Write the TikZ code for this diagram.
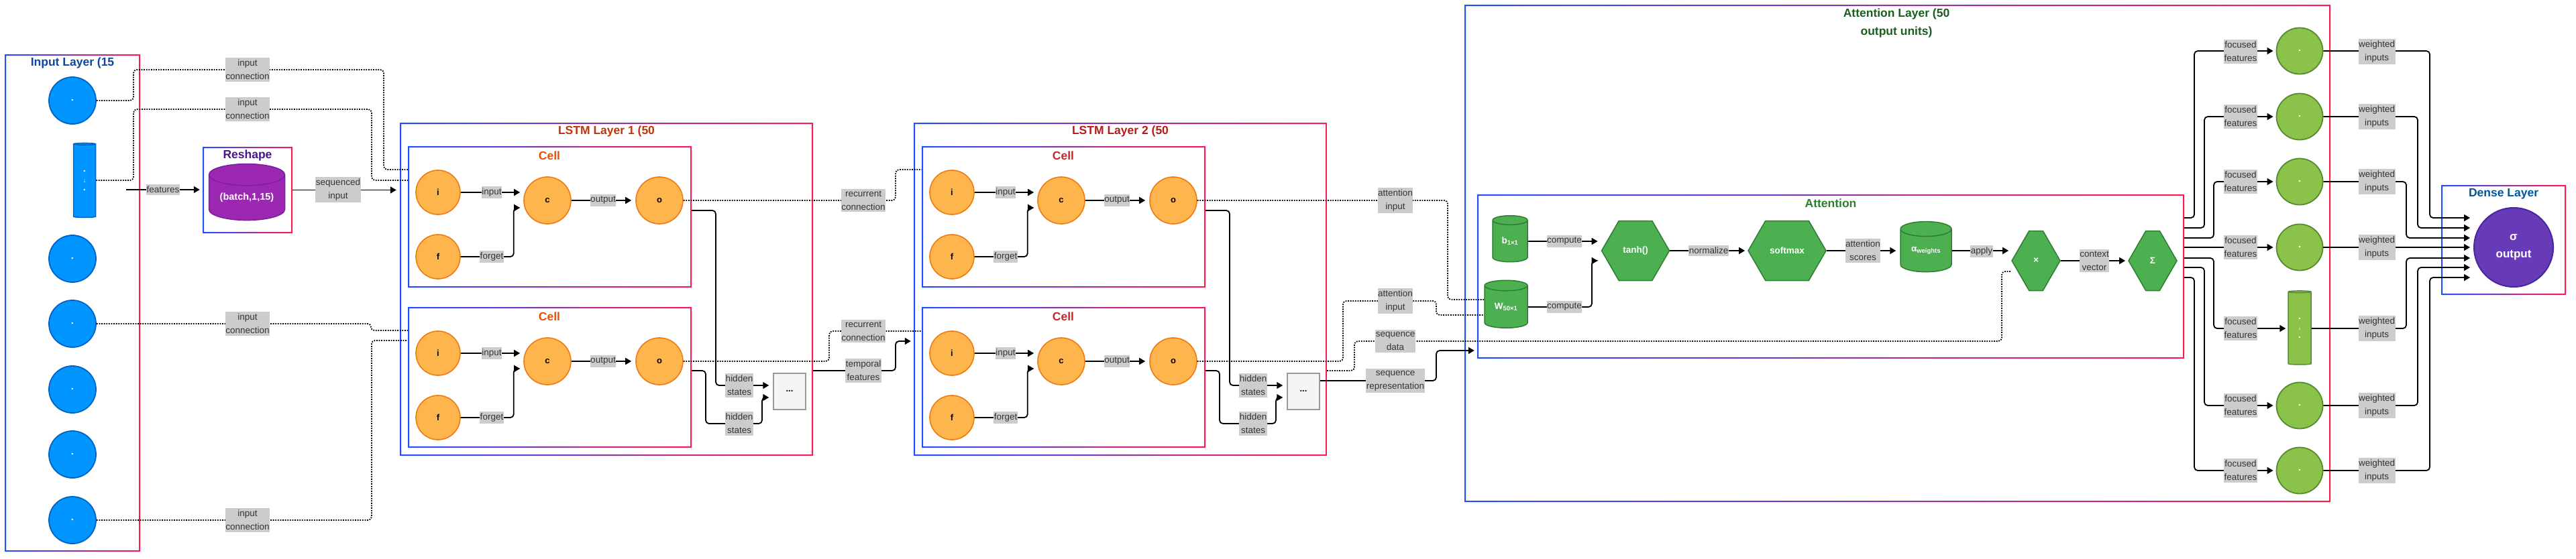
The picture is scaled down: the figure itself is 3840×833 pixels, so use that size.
\documentclass[tikz,border=0pt]{standalone}
\usepackage{fontspec}
\setmainfont{Liberation Sans}
\usetikzlibrary{arrows.meta,shapes.geometric,shapes.symbols,fit,calc}

\definecolor{gblue}{HTML}{1F4FFF}
\definecolor{gred}{HTML}{FF1A50}
\definecolor{inblue}{HTML}{0095FF}
\definecolor{inbluedk}{HTML}{0063C8}
\definecolor{gatefill}{HTML}{FFB54D}
\definecolor{gatedk}{HTML}{F07A10}
\definecolor{attfill}{HTML}{4CAF50}
\definecolor{attdk}{HTML}{2E7D32}
\definecolor{focfill}{HTML}{8BC34A}
\definecolor{focdk}{HTML}{558B2F}
\definecolor{rsfill}{HTML}{9C27B0}
\definecolor{rsdk}{HTML}{7B1FA2}
\definecolor{outfill}{HTML}{673AB7}
\definecolor{outdk}{HTML}{4527A0}
\definecolor{lblgray}{HTML}{CCCCCC}
\definecolor{lbltext}{HTML}{333333}
\definecolor{ttlinput}{HTML}{0D47A1}
\definecolor{ttlreshape}{HTML}{4A148C}
\definecolor{ttllstmA}{HTML}{BF360C}
\definecolor{ttlcellA}{HTML}{E65100}
\definecolor{ttllstmB}{HTML}{B71C1C}
\definecolor{ttlcellB}{HTML}{C62828}
\definecolor{ttlattlayer}{HTML}{1B5E20}
\definecolor{ttlatt}{HTML}{2E7D32}
\definecolor{ttldense}{HTML}{01579B}

\tikzset{
  conlbl/.style={fill=lblgray, text=lbltext, font=\fontsize{13.5}{20}\selectfont,
    align=center, inner xsep=0.5pt, inner ysep=3pt},
  ttl/.style={font=\fontsize{17.5}{27}\selectfont\bfseries, align=center, inner sep=0pt},
  inunit/.style={circle, draw=inbluedk, fill=inblue, line width=1.8pt, minimum size=70pt,
    inner sep=0pt, text=white, font=\fontsize{9}{9}\selectfont},
  gatenode/.style={circle, draw=gatedk, fill=gatefill, line width=1.6pt, minimum size=#1,
    inner sep=0pt, font=\fontsize{13}{13}\selectfont\bfseries},
  gatenode/.default=70pt,
  dbcyl/.style={cylinder, shape border rotate=90, aspect=0.5, inner sep=0pt,
    line width=1.5pt, text=white, align=center},
  attnhex/.style={signal, signal to=east and west, signal pointer angle=120,
    draw=attdk, fill=attfill, line width=1.5pt, minimum height=89pt, inner sep=0pt,
    text=white, font=\fontsize{13.5}{13.5}\selectfont\bfseries},
  focunit/.style={circle, draw=focdk, fill=focfill, line width=1.8pt, minimum size=69pt,
    inner sep=0pt, text=white, font=\fontsize{9}{9}\selectfont},
  ellipbox/.style={rectangle, draw=black!40, fill=black!4, line width=1.5pt,
    minimum width=48pt, minimum height=54pt, font=\fontsize{13}{13}\selectfont\bfseries},
  flow/.style={line width=1.8pt, rounded corners=5pt, -{Triangle[length=9pt,width=10pt]}},
  dotlink/.style={line width=1.8pt, dash pattern=on 1.8pt off 1.8pt, rounded corners=5pt}
}

\newcommand\layerframe[3]{%
  \shade[left color=gblue, right color=gred, even odd rule]
    (#2) rectangle (#3) ($(#2)+(2,2)$) rectangle ($(#3)+(-2,-2)$);
  \node[fit={(#2) (#3)}, inner sep=0pt] (#1) {};}

\begin{document}
\begin{tikzpicture}[x=1pt, y=-1pt]
  \useasboundingbox[fill=white] (0,0) rectangle (3840,833);

  % frames
  \layerframe{inlayer}{7,81}{209,823}
  \layerframe{reshape}{302,219}{436,348}
  \layerframe{lstmA}{596,183}{1212,680}
  \layerframe{cellA1}{608,218}{1031,429}
  \layerframe{cellA2}{608,458}{1031,668}
  \layerframe{lstmB}{1362,183}{1978,680}
  \layerframe{cellB1}{1374,218}{1797,429}
  \layerframe{cellB2}{1374,458}{1797,668}
  \layerframe{attlayer}{2183,7}{3474,749}
  \layerframe{attn}{2202,290}{3256,535}
  \layerframe{dense}{3639,276}{3825,440}

  % titles
  \node[ttl, text=ttlinput] (inttl) at (108,94) {Input Layer (15};
  \node[ttl, text=ttlreshape] (rsttl) at (369,232) {Reshape};
  \node[ttl, text=ttllstmA] (lstmAttl) at (904,196) {LSTM Layer 1 (50};
  \node[ttl, text=ttlcellA] (cellA1ttl) at (819,232) {Cell};
  \node[ttl, text=ttlcellA] (cellA2ttl) at (819,472) {Cell};
  \node[ttl, text=ttllstmB] (lstmBttl) at (1670,196) {LSTM Layer 2 (50};
  \node[ttl, text=ttlcellB] (cellB1ttl) at (1585,232) {Cell};
  \node[ttl, text=ttlcellB] (cellB2ttl) at (1585,472) {Cell};
  \node[ttl, text=ttlattlayer] (attlayerttl) at (2827,34) {Attention Layer (50\\output units)};
  \node[ttl, text=ttlatt] (attnttl) at (2729,303) {Attention};
  \node[ttl, text=ttldense] (densettl) at (3732,289) {Dense Layer};

  % input layer
  \node[inunit] (in1) at (108,150) {•};
  \node[dbcyl, draw=inbluedk, fill=inblue, minimum width=33pt, minimum height=111pt,
    aspect=0.6, font=\fontsize{9}{14}\selectfont] (incyl) at (126,270) {•\\↓\\•};
  \node[inunit] (in3) at (108,386) {•};
  \node[inunit] (in4) at (108,483) {•};
  \node[inunit] (in5) at (108,581) {•};
  \node[inunit] (in6) at (108,678) {•};
  \node[inunit] (in7) at (108,776) {•};

  % reshape
  \node[dbcyl, draw=rsdk, fill=rsfill, minimum width=113pt, minimum height=84pt,
    aspect=0.4, font=\fontsize{14.5}{14.5}\selectfont\bfseries] (rscyl) at (368,295) {(batch,1,15)};

  % lstm layer 1
  \node[gatenode=66pt] (iA1) at (653,287) {i};
  \node[gatenode=66pt] (fA1) at (653,383) {f};
  \node[gatenode] (cA1) at (816,299) {c};
  \node[gatenode] (oA1) at (983,299) {o};
  \node[gatenode=66pt] (iA2) at (653,527) {i};
  \node[gatenode=66pt] (fA2) at (653,623) {f};
  \node[gatenode] (cA2) at (816,539) {c};
  \node[gatenode] (oA2) at (983,539) {o};
  \node[ellipbox] (dotsA) at (1177,584) {...};

  % lstm layer 2
  \node[gatenode=66pt] (iB1) at (1419,287) {i};
  \node[gatenode=66pt] (fB1) at (1419,383) {f};
  \node[gatenode] (cB1) at (1582,299) {c};
  \node[gatenode] (oB1) at (1749,299) {o};
  \node[gatenode=66pt] (iB2) at (1419,527) {i};
  \node[gatenode=66pt] (fB2) at (1419,623) {f};
  \node[gatenode] (cB2) at (1582,539) {c};
  \node[gatenode] (oB2) at (1749,539) {o};
  \node[ellipbox] (dotsB) at (1943,584) {...};

  % attention
  \node[dbcyl, draw=attdk, fill=attfill, minimum width=52pt, minimum height=69pt,
    aspect=0.55, font=\fontsize{13.5}{13.5}\selectfont\bfseries] (bcyl) at (2251,360) {b\textsubscript{1×1}};
  \node[dbcyl, draw=attdk, fill=attfill, minimum width=64pt, minimum height=71pt,
    aspect=0.45, font=\fontsize{13.5}{13.5}\selectfont\bfseries] (Wcyl) at (2245,458) {W\textsubscript{50×1}};
  \node[attnhex, minimum width=101pt] (tanhhex) at (2438,374) {tanh()};
  \node[attnhex, minimum width=116pt] (softhex) at (2664,374) {softmax};
  \node[dbcyl, draw=attdk, fill=attfill, minimum width=76pt, minimum height=75pt,
    aspect=0.5, font=\fontsize{13.5}{13.5}\selectfont\bfseries] (alphacyl) at (2871,374) {α\textsubscript{weights}};
  \node[attnhex, minimum width=72pt] (timeshex) at (3035,389) {×};
  \node[attnhex, minimum width=72pt] (sumhex) at (3209,389) {Σ};

  \node[focunit] (foc1) at (3428,76) {•};
  \node[focunit] (foc2) at (3428,174) {•};
  \node[focunit] (foc3) at (3428,271) {•};
  \node[focunit] (foc4) at (3428,369) {•};
  \node[dbcyl, draw=focdk, fill=focfill, minimum width=34pt, minimum height=110pt,
    aspect=0.6, font=\fontsize{9}{14}\selectfont] (foccyl) at (3428,490) {•\\↓\\•};
  \node[focunit] (foc6) at (3428,605) {•};
  \node[focunit] (foc7) at (3428,702) {•};

  % dense
  \node[circle, draw=outdk, fill=outfill, line width=2pt, minimum size=118pt, inner sep=0pt,
    text=white, align=center, font=\fontsize{17}{26}\selectfont\bfseries] (outnode) at (3747,369) {σ\\output};

  % input connections
  \coordinate (featsrc) at (188,283);
  \draw[dotlink] (in1) -- (199,150) |- (572,104) |- (cellA1.west |- 0,253);
  \draw[dotlink] (incyl.east |- 0,269) -- (199,269) |- (554,163) |- (cellA1.west |- 0,269);
  \draw[dotlink] (in4) -- (553,483) |- (cellA2.west |- 0,493);
  \draw[dotlink] (in7) -- (554,776) |- (cellA2.west |- 0,508);
  \draw[flow, shorten >=4pt] (featsrc) -- (reshape.west |- featsrc);
  \draw[flow, shorten >=5pt] (reshape.east) -- (lstmA.west |- reshape.east);

  % cells of layer 1
  \draw[flow, shorten >=5pt] (iA1) -- (iA1 -| cA1.west);
  \draw[flow] (fA1.east) -- ++(79,0) |- ($(cA1.west)+(-5,11)$);
  \draw[flow, shorten >=6pt] (cA1) -- (oA1);
  \draw[flow, shorten >=5pt] (iA2) -- (iA2 -| cA2.west);
  \draw[flow] (fA2.east) -- ++(79,0) |- ($(cA2.west)+(-5,11)$);
  \draw[flow, shorten >=6pt] (cA2) -- (oA2);
  \draw[flow, shorten >=6pt] (cellA1.east |- 0,314) -- (1067,314) |- (dotsA.west |- 0,575);
  \draw[flow, shorten >=6pt] (cellA2.east |- 0,553) -- (1052,553) |- (1136,632) |- (dotsA.west |- 0,593);
  \draw[dotlink] (oA1) -- (1335,299) |- (cellB1.west |- 0,253);
  \draw[dotlink] (oA2) -- (1236,539) |- (cellB2.west |- 0,494);
  \draw[flow, shorten >=4pt] (lstmA.east |- 0,553) -- (1335,553) |- (lstmB.west |- 0,509);

  % cells of layer 2
  \draw[flow, shorten >=5pt] (iB1) -- (iB1 -| cB1.west);
  \draw[flow] (fB1.east) -- ++(79,0) |- ($(cB1.west)+(-5,11)$);
  \draw[flow, shorten >=6pt] (cB1) -- (oB1);
  \draw[flow, shorten >=5pt] (iB2) -- (iB2 -| cB2.west);
  \draw[flow] (fB2.east) -- ++(79,0) |- ($(cB2.west)+(-5,11)$);
  \draw[flow, shorten >=6pt] (cB2) -- (oB2);
  \draw[flow, shorten >=6pt] (cellB1.east |- 0,314) -- (1833,314) |- (dotsB.west |- 0,575);
  \draw[flow, shorten >=6pt] (cellB2.east |- 0,553) -- (1818,553) |- (1902,632) |- (dotsB.west |- 0,593);
  \draw[dotlink] (oB1) -- (2158,299) |- (Wcyl.west |- 0,447);
  \draw[dotlink] (oB2) -- (2002,539) |- (2141,449) |- (Wcyl.west |- 0,470);
  \draw[dotlink] (lstmB.east |- 0,553) -- (2019,553) |- (2984,509) |- (timeshex.west |- 0,405);
  \draw[flow, shorten >=4pt] (dotsB.east |- 0,568) -- (2141,568) |- (attn.west |- 0,523);

  % attention flow
  \draw[flow, shorten >=5pt] (bcyl) -- (bcyl -| tanhhex.west);
  \draw[flow] (Wcyl.east) -- (2373,458) |- ($(tanhhex.west)+(-5,15)$);
  \draw[flow, shorten >=4pt] (tanhhex) -- (softhex);
  \draw[flow, shorten >=6pt] (softhex) -- (alphacyl);
  \draw[flow, shorten >=4pt] (alphacyl) -- (alphacyl -| timeshex.west);
  \draw[flow, shorten >=4pt] (timeshex) -- (sumhex);

  % focused features
  \draw[flow, shorten >=4pt] (attn.east |- 0,325) -- (3271,325) |- (foc1);
  \draw[flow, shorten >=4pt] (attn.east |- 0,340) -- (3286,340) |- (foc2);
  \draw[flow, shorten >=4pt] (attn.east |- 0,355) -- (3300,355) |- (foc3);
  \draw[flow, shorten >=4pt] (attn.east |- foc4) -- (foc4);
  \draw[flow, shorten >=3pt] (attn.east |- 0,385) -- (3300,385) |- (foccyl);
  \draw[flow, shorten >=4pt] (attn.east |- 0,399) -- (3286,399) |- (foc6);
  \draw[flow, shorten >=4pt] (attn.east |- 0,414) -- (3271,414) |- (foc7);

  % weighted inputs
  \draw[flow, shorten >=5pt] (foc1) -- (3622,76) |- (outnode.west |- 0,325);
  \draw[flow, shorten >=5pt] (foc2) -- (3604,174) |- (outnode.west |- 0,340);
  \draw[flow, shorten >=5pt] (foc3) -- (3587,271) |- (outnode.west |- 0,355);
  \draw[flow, shorten >=5pt] (foc4) -- (outnode);
  \draw[flow, shorten >=5pt] (foccyl) -- (3587,490) |- (outnode.west |- 0,385);
  \draw[flow, shorten >=5pt] (foc6) -- (3604,605) |- (outnode.west |- 0,399);
  \draw[flow, shorten >=5pt] (foc7) -- (3622,702) |- (outnode.west |- 0,414);

  % labels
  \node[conlbl] (lic1) at (369,104) {input\\connection};
  \node[conlbl] (lic2) at (369,163) {input\\connection};
  \node[conlbl] (lic3) at (369,483) {input\\connection};
  \node[conlbl] (lic4) at (369,776) {input\\connection};
  \node[conlbl] (lfeat) at (243,283) {features};
  \node[conlbl] (lseq) at (504,283) {sequenced\\input};

  \node[conlbl] (linA1) at (733,287) {input};
  \node[conlbl] (lfgA1) at (733,383) {forget};
  \node[conlbl] (loutA1) at (899,299) {output};
  \node[conlbl] (linA2) at (733,527) {input};
  \node[conlbl] (lfgA2) at (733,623) {forget};
  \node[conlbl] (loutA2) at (899,539) {output};
  \node[conlbl] (lhsA1) at (1102,575) {hidden\\states};
  \node[conlbl] (lhsA2) at (1102,632) {hidden\\states};
  \node[conlbl] (lrc1) at (1287,299) {recurrent\\connection};
  \node[conlbl] (lrc2) at (1287,494) {recurrent\\connection};
  \node[conlbl] (ltf) at (1287,553) {temporal\\features};

  \node[conlbl] (linB1) at (1499,287) {input};
  \node[conlbl] (lfgB1) at (1499,383) {forget};
  \node[conlbl] (loutB1) at (1665,299) {output};
  \node[conlbl] (linB2) at (1499,527) {input};
  \node[conlbl] (lfgB2) at (1499,623) {forget};
  \node[conlbl] (loutB2) at (1665,539) {output};
  \node[conlbl] (lhsB1) at (1868,575) {hidden\\states};
  \node[conlbl] (lhsB2) at (1868,632) {hidden\\states};

  \node[conlbl] (lai1) at (2080,299) {attention\\input};
  \node[conlbl] (lai2) at (2080,449) {attention\\input};
  \node[conlbl] (lsd) at (2080,509) {sequence\\data};
  \node[conlbl] (lsr) at (2080,568) {sequence\\representation};
  \node[conlbl] (lcp1) at (2332,360) {compute};
  \node[conlbl] (lcp2) at (2332,458) {compute};
  \node[conlbl] (lnorm) at (2547,374) {normalize};
  \node[conlbl] (lscore) at (2777,374) {attention\\scores};
  \node[conlbl] (lapply) at (2954,375) {apply};
  \node[conlbl] (lctx) at (3122,389) {context\\vector};

  \node[conlbl] (lff1) at (3340,77) {focused\\features};
  \node[conlbl] (lff2) at (3340,174) {focused\\features};
  \node[conlbl] (lff3) at (3340,271) {focused\\features};
  \node[conlbl] (lff4) at (3340,369) {focused\\features};
  \node[conlbl] (lff5) at (3340,490) {focused\\features};
  \node[conlbl] (lff6) at (3340,605) {focused\\features};
  \node[conlbl] (lff7) at (3340,702) {focused\\features};
  \node[conlbl] (lwi1) at (3543,77) {weighted\\inputs};
  \node[conlbl] (lwi2) at (3543,174) {weighted\\inputs};
  \node[conlbl] (lwi3) at (3543,271) {weighted\\inputs};
  \node[conlbl] (lwi4) at (3543,369) {weighted\\inputs};
  \node[conlbl] (lwi5) at (3543,490) {weighted\\inputs};
  \node[conlbl] (lwi6) at (3543,605) {weighted\\inputs};
  \node[conlbl] (lwi7) at (3543,702) {weighted\\inputs};
\end{tikzpicture}
\end{document}
